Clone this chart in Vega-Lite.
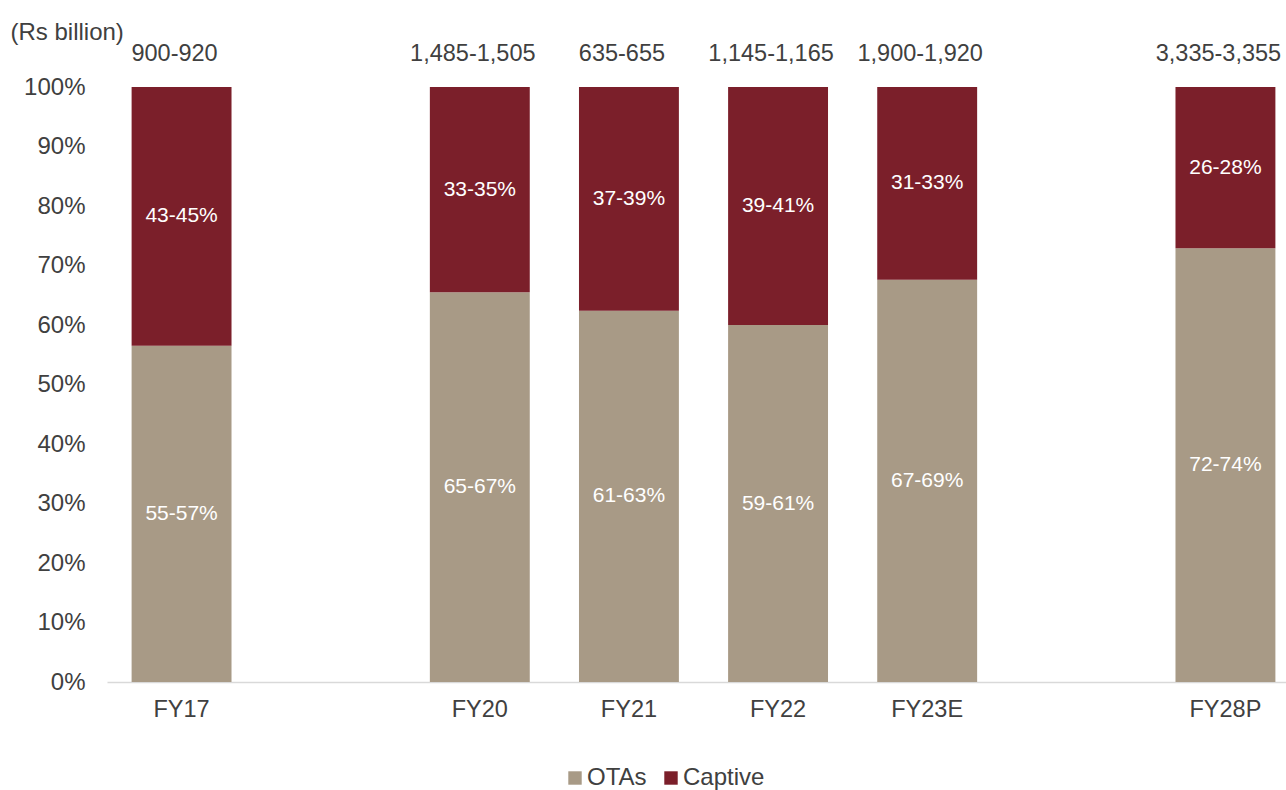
{
  "$schema": "https://vega.github.io/schema/vega-lite/v6.json",
  "autosize": {"type": "none"},
  "width": 1193,
  "height": 595,
  "padding": {"left": 107, "top": 87, "right": 0, "bottom": 108},
  "background": "white",
  "config": {
    "view": {"stroke": null},
    "font": "Liberation Sans",
    "text": {"font": "Liberation Sans"}
  },
  "datasets": {
    "shares": [
      {"year": "FY17", "segment": "OTAs", "order": 1, "share": 0.565, "label": "55-57%"},
      {"year": "FY17", "segment": "Captive", "order": 2, "share": 0.435, "label": "43-45%"},
      {"year": "FY20", "segment": "OTAs", "order": 1, "share": 0.655, "label": "65-67%"},
      {"year": "FY20", "segment": "Captive", "order": 2, "share": 0.345, "label": "33-35%"},
      {"year": "FY21", "segment": "OTAs", "order": 1, "share": 0.624, "label": "61-63%"},
      {"year": "FY21", "segment": "Captive", "order": 2, "share": 0.376, "label": "37-39%"},
      {"year": "FY22", "segment": "OTAs", "order": 1, "share": 0.6, "label": "59-61%"},
      {"year": "FY22", "segment": "Captive", "order": 2, "share": 0.4, "label": "39-41%"},
      {"year": "FY23E", "segment": "OTAs", "order": 1, "share": 0.676, "label": "67-69%"},
      {"year": "FY23E", "segment": "Captive", "order": 2, "share": 0.324, "label": "31-33%"},
      {"year": "FY28P", "segment": "OTAs", "order": 1, "share": 0.729, "label": "72-74%"},
      {"year": "FY28P", "segment": "Captive", "order": 2, "share": 0.271, "label": "26-28%"}
    ],
    "totals": [
      {"year": "FY17", "total": "900-920"},
      {"year": "FY20", "total": "1,485-1,505"},
      {"year": "FY21", "total": "635-655"},
      {"year": "FY22", "total": "1,145-1,165"},
      {"year": "FY23E", "total": "1,900-1,920"},
      {"year": "FY28P", "total": "3,335-3,355"}
    ]
  },
  "encoding": {
    "x": {
      "field": "year",
      "type": "nominal",
      "scale": {
        "domain": ["FY17", "gap1", "FY20", "FY21", "FY22", "FY23E", "gap2", "FY28P"],
        "paddingInner": 0.33,
        "paddingOuter": 0.165
      },
      "axis": {
        "title": null,
        "labelAngle": 0,
        "labelExpr": "indexof(datum.value, 'gap') == 0 ? '' : datum.value",
        "labelFont": "Liberation Sans",
        "labelFontSize": 23.5,
        "labelColor": "#404040",
        "labelPadding": 15,
        "ticks": false,
        "tickSize": 0,
        "domainColor": "#d9d9d9",
        "domainWidth": 1.5,
        "grid": false
      }
    }
  },
  "layer": [
    {
      "data": {"name": "shares"},
      "mark": {"type": "bar"},
      "encoding": {
        "y": {
          "field": "share",
          "type": "quantitative",
          "stack": "zero",
          "scale": {"domain": [0, 1], "nice": false},
          "axis": {
            "format": ".0%",
            "values": [0, 0.1, 0.2, 0.3, 0.4, 0.5, 0.6, 0.7, 0.8, 0.9, 1],
            "grid": false,
            "domain": false,
            "ticks": false,
            "tickSize": 0,
            "labelPadding": 22,
            "labelFont": "Liberation Sans",
            "labelFontSize": 24,
            "labelColor": "#404040",
            "title": "(Rs billion)",
            "titleAngle": 0,
            "titleAlign": "left",
            "titleBaseline": "middle",
            "titleX": -97,
            "titleY": -55,
            "titleFont": "Liberation Sans",
            "titleFontSize": 24,
            "titleFontWeight": "normal",
            "titleColor": "#404040"
          }
        },
        "order": {"field": "order", "type": "quantitative"},
        "color": {
          "field": "segment",
          "type": "nominal",
          "scale": {"domain": ["OTAs", "Captive"], "range": ["#A89A86", "#7B1F2A"]},
          "legend": {
            "title": null,
            "orient": "none",
            "direction": "horizontal",
            "legendX": 456,
            "legendY": 679,
            "padding": 0,
            "symbolType": "square",
            "symbolSize": 180,
            "symbolStrokeWidth": 0,
            "labelFont": "Liberation Sans",
            "labelFontSize": 24,
            "labelColor": "#404040",
            "labelOffset": 0,
            "columnPadding": 12
          }
        }
      }
    },
    {
      "data": {"name": "shares"},
      "mark": {"type": "text", "color": "white", "fontSize": 21, "font": "Liberation Sans", "baseline": "middle"},
      "encoding": {
        "y": {"field": "share", "type": "quantitative", "stack": "zero", "bandPosition": 0.5},
        "order": {"field": "order", "type": "quantitative"},
        "text": {"field": "label"}
      }
    },
    {
      "data": {"name": "totals"},
      "mark": {"type": "text", "color": "#404040", "fontSize": 23.5, "font": "Liberation Sans", "baseline": "middle", "dy": -33, "dx": -7},
      "encoding": {
        "y": {"datum": 1, "type": "quantitative"},
        "text": {"field": "total"}
      }
    }
  ]
}
